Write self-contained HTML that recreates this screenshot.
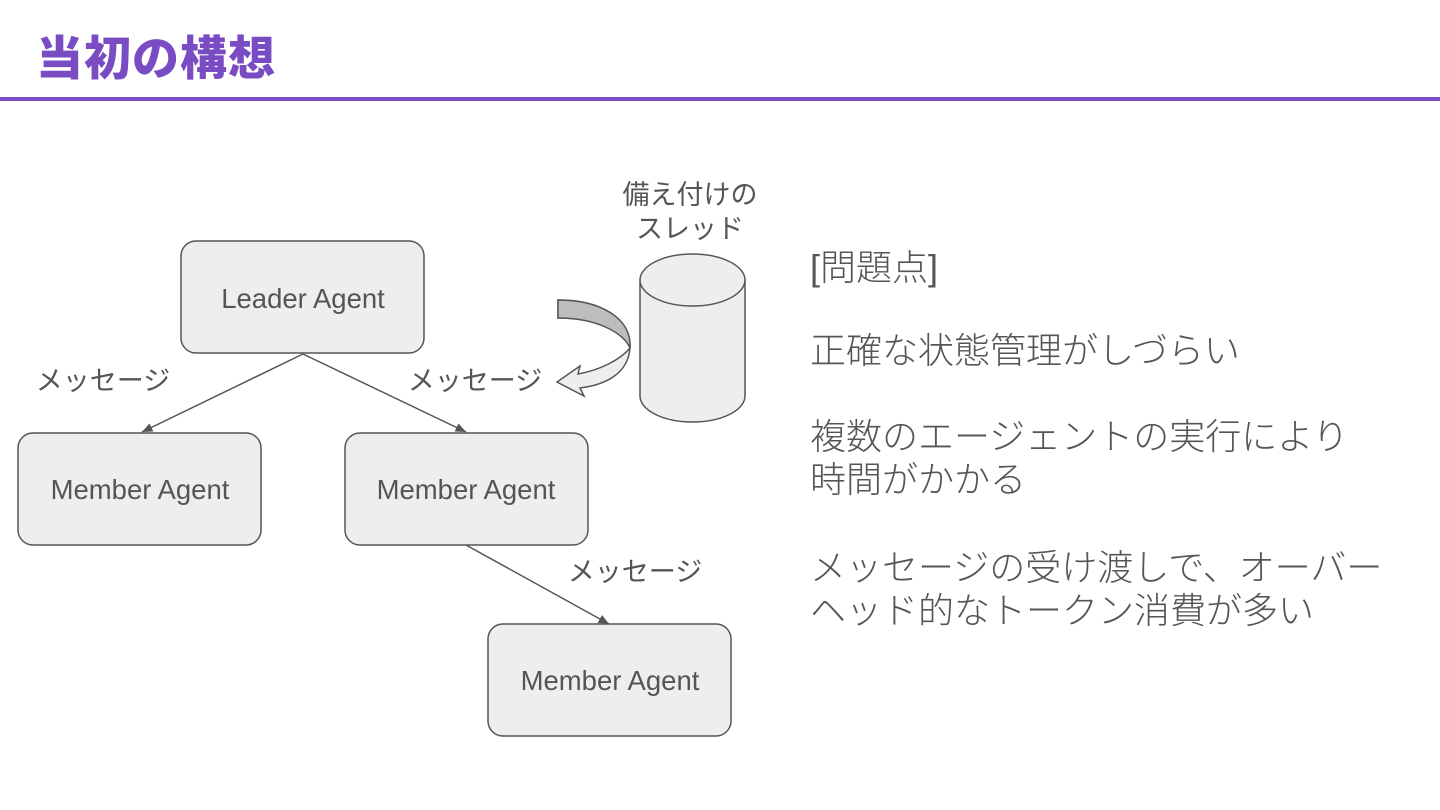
<!DOCTYPE html>
<html><head><meta charset="utf-8"><style>
body{margin:0;width:1440px;height:810px;background:#fff;overflow:hidden;position:relative;font-family:"Liberation Sans","Noto Sans CJK JP",sans-serif}
.t{position:absolute;left:36px;top:20px;font-size:47px;font-weight:900;color:#7a4cc4;letter-spacing:1px}
.rule{position:absolute;left:0;top:97px;width:1440px;height:4px;background:#7a4cc4}
.r{position:absolute;left:810px;font-size:36px;color:#555;line-height:43px;white-space:nowrap;font-weight:300}
</style></head><body>
<div class="t">当初の構想</div>
<div class="rule"></div>
<svg width="1440" height="810" style="position:absolute;left:0;top:0" font-family="Liberation Sans, Noto Sans CJK JP, sans-serif">
<defs><marker id="a" markerWidth="8" markerHeight="8" refX="7" refY="4" orient="auto"><path d="M0,1 L7,4 L0,7 Z" fill="#555"/></marker></defs>
<g stroke="#555" stroke-width="1.5">
<line x1="303" y1="354" x2="142" y2="432" marker-end="url(#a)"/>
<line x1="303" y1="354" x2="466" y2="432" marker-end="url(#a)"/>
<line x1="466" y1="545" x2="609" y2="624" marker-end="url(#a)"/>
</g>
<g fill="#eeeeee" stroke="#555" stroke-width="1.5">
<rect x="181" y="241" width="243" height="112" rx="15"/>
<rect x="18" y="433" width="243" height="112" rx="15"/>
<rect x="345" y="433" width="243" height="112" rx="15"/>
<rect x="488" y="624" width="243" height="112" rx="15"/>
<path d="M640,280 L640,396 A52.5,26 0 0 0 745,396 L745,280"/>
<ellipse cx="692.5" cy="280" rx="52.5" ry="26"/>
<path d="M558,300 C600,300 632,318 630,348 C620,360 600,370 578,374 L580,366 L557,382 L584,396 L580,388 C605,385 628,374 630,348 C630,335 600,318 558,318 Z" fill="#eee"/>
<path d="M558,300 C600,300 632,318 630,348 C625,335 600,318 558,318 Z" fill="#bdbdbd"/>
</g>
<g fill="#555" font-size="27.5" text-anchor="middle">
<text x="303" y="308">Leader Agent</text>
<text x="140" y="499">Member Agent</text>
<text x="466" y="499">Member Agent</text>
<text x="610" y="690">Member Agent</text>
</g>
<g fill="#555" font-size="27" text-anchor="middle">
<text x="103" y="390">メッセージ</text>
<text x="475" y="390">メッセージ</text>
<text x="635" y="581">メッセージ</text>
<text x="690" y="204">備え付けの</text>
<text x="690" y="238">スレッド</text>
</g>
</svg>
<div class="r" style="top:246px">[問題点]</div>
<div class="r" style="top:329px">正確な状態管理がしづらい</div>
<div class="r" style="top:415px">複数のエージェントの実行により<br>時間がかかる</div>
<div class="r" style="top:546px">メッセージの受け渡しで、オーバー<br>ヘッド的なトークン消費が多い</div>
</body></html>
